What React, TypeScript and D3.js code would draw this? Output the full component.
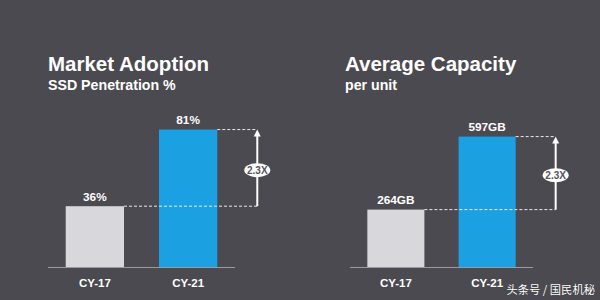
import React from "react";
import * as d3 from "d3";

const categories = ["CY-17", "CY-21"];
const adoptionValues = [36, 81];
const adoptionLabels = ["36%", "81%"];
const capacityValues = [264, 597];
const capacityLabels = ["264GB", "597GB"];
const multiplierLabel = "2.3X";

const W = 600;
const H = 300;
const BG = "#4b4a50";
const BLUE = "#1ba0e2";
const GREY = "#d8d8dc";
const FONT = "'Liberation Sans', Arial, sans-serif";

type PanelProps = {
  title: string;
  subtitle: string;
  values: number[];
  labels: string[];
  x0: number;
  x1: number;
  titleX: number;
  yMax: number;
  yTop: number;
};

function Panel({ title, subtitle, values, labels, x0, x1, titleX, yMax, yTop }: PanelProps) {
  const baseY = 267.5;
  const x = d3.scaleBand<string>().domain(categories).range([x0, x1]).paddingInner(0.375).paddingOuter(0.19);
  const y = d3.scaleLinear().domain([0, yMax]).range([baseY, yTop]);
  const bw = x.bandwidth();
  const lowRight = (x(categories[0]) as number) + bw;
  const highRight = (x(categories[1]) as number) + bw;
  const arrowX = highRight + 40;
  const yLow = y(values[0]);
  const yHigh = y(values[1]);
  const midY = yLow + (yHigh - yLow) * 0.47;
  return (
    <g>
      <text x={titleX} y={71} fill="#fff" fontFamily={FONT} fontWeight="bold" fontSize={20.5}>{title}</text>
      <text x={titleX} y={89.5} fill="#fff" fontFamily={FONT} fontWeight="bold" fontSize={14.2}>{subtitle}</text>
      {values.map((v, i) => {
        const bx = x(categories[i]) as number;
        return (
          <g key={i}>
            <rect x={bx} y={y(v)} width={bw} height={baseY - y(v)} fill={i === 0 ? GREY : BLUE} />
            <text x={bx + bw / 2} y={y(v) - 5.5} textAnchor="middle" fill="#fff" fontFamily={FONT} fontWeight="bold" fontSize={11.8}>{labels[i]}</text>
            <text x={bx + bw / 2} y={287} textAnchor="middle" fill="#fff" fontFamily={FONT} fontWeight="bold" fontSize={11.5}>{categories[i]}</text>
          </g>
        );
      })}
      <line x1={x0} x2={x1} y1={baseY} y2={baseY} stroke="#9a9aa0" strokeWidth={1.2} />
      <line x1={lowRight} x2={arrowX} y1={yLow} y2={yLow} stroke="#e8e8ee" strokeWidth={1} strokeDasharray="3,2" />
      <line x1={highRight} x2={arrowX} y1={yHigh} y2={yHigh} stroke="#e8e8ee" strokeWidth={1} strokeDasharray="3,2" />
      <line x1={arrowX} x2={arrowX} y1={yLow} y2={yHigh + 5} stroke="#fff" strokeWidth={2} />
      <path d={`M${arrowX - 3.5},${yHigh + 7} L${arrowX},${yHigh} L${arrowX + 3.5},${yHigh + 7} Z`} fill="#fff" />
      <ellipse cx={arrowX} cy={midY} rx={13} ry={7} fill="#fff" />
      <text x={arrowX} y={midY + 3.4} textAnchor="middle" fill="#55545a" fontFamily={FONT} fontWeight="bold" fontSize={10}>{multiplierLabel}</text>
    </g>
  );
}

export default function App() {
  return (
    <svg width={W} height={H} style={{ position: "absolute", left: 0, top: 0 }}>
      <rect x={0} y={0} width={W} height={H} fill={BG} />
      <Panel title="Market Adoption" subtitle="SSD Penetration %" values={adoptionValues} labels={adoptionLabels}
        x0={48} x1={235} titleX={48} yMax={100} yTop={267.5 - 170.3} />
      <Panel title="Average Capacity" subtitle="per unit" values={capacityValues} labels={capacityLabels}
        x0={350} x1={533} titleX={345} yMax={700} yTop={267.5 - 153.5} />
      <text x={595} y={294} textAnchor="end" fill="#fff" fontFamily="'Noto Sans CJK SC', sans-serif" fontSize={11.3} style={{ paintOrder: "stroke" }} stroke="#3a3a3a" strokeWidth={0.6}>头条号 / 国民机秘</text>
    </svg>
  );
}
